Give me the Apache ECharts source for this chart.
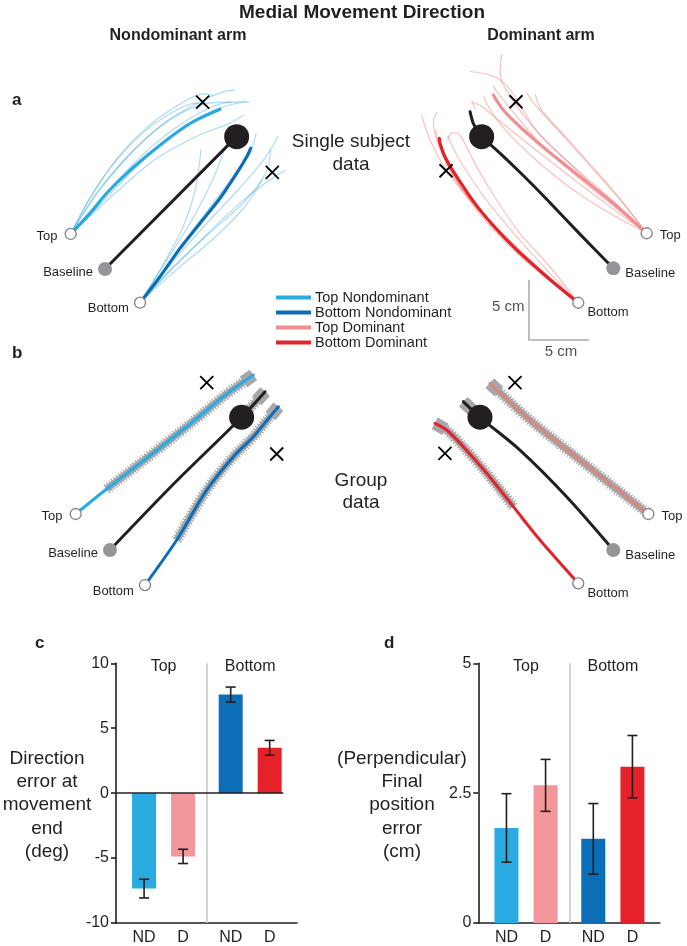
<!DOCTYPE html>
<html><head><meta charset="utf-8">
<script src="https://cdn.jsdelivr.net/npm/echarts@6/dist/echarts.min.js"></script>
<style>html,body{margin:0;padding:0;background:#fff}#c{width:687px;height:946px}</style>
</head><body><div id="c"></div>
<script>
// ---------- DATA (trajectories in cm, origin = Baseline target) ----------
// Panel a, nondominant arm (single subject)
const aL_topTarget = [-2.86, 2.92];
const aL_bottomTarget = [2.92, -2.81];
const aL_end = [10.97, 11.03];
const aL_baselinePath = [[0,0],[10.97,11.03]];
const aL_topMean = [[-2.86,2.92],[-1.25,4.64],[0.14,6.31],[1.81,7.97],[3.75,9.64],[5.69,11.17],[7.36,12.28],[9.58,13.31]];
const aL_bottomMean = [[2.92,-2.81],[4.58,-0.64],[6.25,1.72],[7.92,3.81],[9.58,5.89],[10.97,7.97],[11.81,9.36],[12.14,10.06]];
const aL_topTrials = [
  [[-2.86,2.92],[-1.2,6.0],[1.0,9.2],[3.5,11.8],[6.0,13.6],[8.2,14.6],[9.0,14.5]],
  [[-2.86,2.92],[-0.8,6.2],[2.0,9.5],[5.0,12.2],[8.0,14.0],[10.0,14.8],[10.8,14.9]],
  [[-2.86,2.92],[0,5.8],[3.0,8.9],[6.0,11.4],[9.0,13.2],[11.8,14.0]],
  [[-2.86,2.92],[0.5,6.0],[4.0,9.0],[7.5,11.0],[10.5,12.2],[11.5,12.8]],
  [[-2.86,2.92],[-1.5,5.5],[0.5,8.5],[3.0,11.2],[5.5,13.0],[7.5,13.8],[8.5,13.6]],
  [[-2.86,2.92],[0.5,6.8],[4.0,10.3],[7.5,12.8],[10.5,13.9],[12.0,13.9]],
  [[-2.86,2.92],[-0.5,6.5],[2.5,10.0],[5.5,12.5],[8.5,13.8],[10.5,13.9]]
];
const aL_bottomTrials = [
  [[2.92,-2.81],[5.0,0.0],[7.5,3.5],[10.0,6.8],[12.0,9.5],[12.6,11.3]],
  [[2.92,-2.81],[5.3,0.2],[8.2,3.5],[11.0,6.5],[13.3,9.2],[14.4,11.0]],
  [[2.92,-2.81],[5.5,0.0],[8.5,2.8],[11.5,5.5],[13.4,8.0],[13.8,9.9]],
  [[2.92,-2.81],[5.8,-0.2],[9.0,2.5],[11.5,5.0],[13.1,7.4]],
  [[2.92,-2.81],[4.8,0.3],[6.5,3.5],[7.5,6.5],[8.0,9.9]],
  [[2.92,-2.81],[5.0,0.5],[7.2,4.0],[9.0,7.5],[10.2,10.7]],
  [[2.92,-2.81],[5.6,0.0],[8.6,3.0],[11.6,5.8],[14.0,7.6],[15.0,8.2]]
];
const aL_crosses = [[8.14,13.9],[13.94,8.06]];

// Panel a, dominant arm (single subject)
const aR_topTarget = [2.78, 2.92];
const aR_bottomTarget = [-2.92, -2.87];
const aR_end = [-10.97, 10.97];
const aR_baselinePath = [[0,0],[-2.78,2.85],[-5.55,5.75],[-7.78,8.0],[-9.72,9.85],[-10.97,10.97],[-11.67,12.08],[-11.94,13.05]];
const aR_topMean = [[2.78,2.92],[0,5.42],[-2.78,7.64],[-5.55,9.86],[-7.78,11.8],[-9.17,13.19],[-10.0,14.44]];
const aR_bottomMean = [[-2.92,-2.87],[-5.55,-0.7],[-8.33,1.8],[-11.11,4.86],[-13.05,7.64],[-14.03,9.3],[-14.44,10.42],[-14.5,10.83]];
const aR_topTrials = [
  [[2.78,2.92],[0,5.6],[-3,8.2],[-6,11.0],[-8.6,14.3],[-9.44,16.25],[-9.3,17.8]],
  [[2.78,2.92],[-0.5,5.8],[-3.5,8.6],[-6.5,11.6],[-8.6,14.9],[-10,16.0],[-11.94,16.4]],
  [[2.78,2.92],[-0.5,5.3],[-3.8,7.8],[-7.0,10.3],[-9.5,12.3],[-11.0,13.5],[-11.8,13.9],[-11.5,13.3]],
  [[2.78,2.92],[0,5.2],[-3.0,7.6],[-6.0,10.3],[-8.0,12.6],[-9.6,14.6],[-10.0,15.2]],
  [[2.78,2.92],[0.5,5.8],[-2.0,8.6],[-4.5,11.4],[-6.5,13.6],[-7.2,14.6]],
  [[2.78,2.92],[0.8,5.5],[-1.5,8.2],[-4.0,11.0],[-6.0,13.2],[-6.5,14.5]],
  [[2.78,2.92],[-1.0,5.0],[-4.5,7.4],[-7.5,10.0],[-9.8,12.5],[-10.8,14.3]]
];
const aR_bottomTrials = [
  [[-2.92,-2.87],[-5.5,-0.6],[-8.5,2.2],[-11.5,5.2],[-14.0,8.3],[-15.4,11.0],[-15.97,12.78]],
  [[-2.92,-2.87],[-5.28,0.13],[-7.78,2.92],[-9.72,5.69],[-11.39,8.47],[-12.78,11.1],[-13.4,11.3],[-13.8,10.8]],
  [[-2.92,-2.87],[-5.8,-0.4],[-8.8,2.3],[-11.6,5.3],[-13.6,8.2],[-14.6,10.6],[-14.8,11.5]],
  [[-2.92,-2.87],[-5.6,-0.8],[-8.4,1.6],[-11.2,4.6],[-13.3,7.6],[-14.3,9.6]],
  [[-2.92,-2.87],[-6.0,-0.2],[-9.2,2.8],[-12.0,6.0],[-14.2,9.4],[-15.0,12.2],[-14.7,13.0]],
  [[-2.92,-2.87],[-5.4,-0.3],[-8.2,2.8],[-10.8,6.0],[-12.8,9.0],[-13.8,11.0]]
];
const aR_crosses = [[-8.11,13.88],[-13.94,8.13]];
const scaleOrigin = [-7.03, -5.97];
const scaleLength = 5;

// Panel b, group data
const bL_topTarget = [-2.86, 3.0];
const bL_bottomTarget = [2.92, -2.92];
const bL_end = [10.97, 11.06];
const bL_baselinePath = [[0,0],[5.4,5.6],[10.97,11.06],[12.92,13.19]];
const bL_topMean = [[-2.86,3.0],[-0.28,5.08],[2.5,7.22],[6.67,10.5],[9.72,13.0],[11.94,14.58]];
const bL_bottomMean = [[2.92,-2.92],[5.56,0.83],[8.06,5.0],[10.28,7.78],[11.94,9.44],[13.33,11.11],[14.03,11.94]];
const bL_crosses = [[8.06,13.94],[13.89,8.0]];

const bR_topTarget = [2.92, 3.0];
const bR_bottomTarget = [-2.92, -2.78];
const bR_end = [-11.11, 11.06];
const bR_baselinePath = [[0,0],[-3.89,4.44],[-7.78,8.33],[-11.11,11.06],[-12.5,12.36]];
const bR_topMean = [[2.92,3.0],[-2.78,7.5],[-6.94,10.83],[-10.28,13.89]];
const bR_bottomMean = [[-2.92,-2.78],[-6.11,0.83],[-8.33,3.61],[-10.55,6.39],[-12.5,8.61],[-13.89,10.0],[-14.86,10.56]];
const bR_crosses = [[-8.19,13.94],[-14.03,8.06]];

// Panels c, d (bar charts)
const barCats = ['ND','D','ND','D'];
const barGroups = ['Top','Bottom'];
const dirErr = [-7.35, -4.87, 7.59, 3.49];
const dirErrSE = [0.72, 0.55, 0.58, 0.57];
const posErr = [1.83, 2.65, 1.62, 3.01];
const posErrSE = [0.66, 0.5, 0.68, 0.6];
const legendNames = ['Top Nondominant','Bottom Nondominant','Top Dominant','Bottom Dominant'];

// ---------- STYLE ----------
const FONT = "'Liberation Sans', Arial, Helvetica, sans-serif";
const INK = '#231F20';
const C_TND = '#29ABE2', C_BND = '#0C6EB6', C_TD = '#F08E93', C_BD = '#E3232A', C_TD_G = '#D9877C';
const THIN_B = 'rgba(41,160,222,0.38)', THIN_R = 'rgba(236,110,105,0.42)';
const BAR_COLORS = [C_TND, '#F3979B', C_BND, '#E5222A'];
const BAND = '#A5A7AA';

const series = [];
function line(gi, data, color, width, extra) {
  series.push(Object.assign({
    type:'line', xAxisIndex:gi, yAxisIndex:gi, data, symbol:'none', showSymbol:false,
    smooth:0.3, clip:false, silent:true, animation:false,
    lineStyle:{color, width, cap:'round', join:'round'}, itemStyle:{color}, z:2
  }, extra || {}));
}
function band(gi, pts, start) {
  const seg = pts.slice(start);
  line(gi, seg, BAND, 7, {z:1, lineStyle:{color:BAND, width:7, cap:'butt'}});
  line(gi, seg, BAND, 11, {z:1, lineStyle:{color:BAND, width:11, type:[1.2,1.8], cap:'butt'}});
  const a = pts[pts.length-2], b = pts[pts.length-1];
  const dx = b[0]-a[0], dy = b[1]-a[1], L = Math.hypot(dx,dy), k = Math.min(1, 1.0/L);
  line(gi, [[b[0]-dx*k, b[1]-dy*k], b], BAND, 13, {z:1, smooth:false, lineStyle:{color:BAND, width:13, cap:'butt'}});
}
function markers(gi, side, topT, botT, endPt, crosses) {
  const L = side === 'left';
  const pos = L ? 'left' : 'right';
  const lbl = (t, dist, off) => ({show:true, formatter:t, position:pos, distance:dist, offset:off,
    fontSize:13, color:INK, fontFamily:FONT, opacity:1});
  series.push({type:'scatter', xAxisIndex:gi, yAxisIndex:gi, silent:true, clip:false, z:6, animation:false,
    symbol:'circle', symbolSize:11,
    itemStyle:{color:'#fff', borderColor:'#808285', borderWidth:1.3, opacity:1},
    data:[
      {value:topT, label:lbl('Top', 7, [0,2])},
      {value:botT, label:lbl('Bottom', L ? 5 : 3, L ? [0,6] : [0,10])}
    ]});
  series.push({type:'scatter', xAxisIndex:gi, yAxisIndex:gi, silent:true, clip:false, z:6, animation:false,
    symbol:'circle', symbolSize:14, itemStyle:{color:'#939598', opacity:1},
    data:[{value:[0,0], label:lbl('Baseline', 5, L ? [0,3] : [0,5])}]});
  series.push({type:'scatter', xAxisIndex:gi, yAxisIndex:gi, silent:true, clip:false, z:5, animation:false,
    symbol:'circle', symbolSize:25, itemStyle:{color:INK, opacity:1}, data:[endPt]});
  series.push({type:'scatter', xAxisIndex:gi, yAxisIndex:gi, silent:true, clip:false, z:7, animation:false,
    symbol:'path://M0,0L10,10M10,0L0,10', symbolSize:13,
    itemStyle:{color:'none', borderColor:'#000', borderWidth:1.8, opacity:1}, data:crosses});
}

// Panel a left
aL_topTrials.forEach(t => line(0, t, THIN_B, 1.2, {z:1}));
aL_bottomTrials.forEach(t => line(0, t, THIN_B, 1.2, {z:1}));
line(0, aL_topMean, C_TND, 3.2, {name:legendNames[0], z:3});
line(0, aL_bottomMean, C_BND, 3.2, {name:legendNames[1], z:3});
line(0, aL_baselinePath, INK, 3, {z:3, smooth:false});
markers(0, 'left', aL_topTarget, aL_bottomTarget, aL_end, aL_crosses);

// Panel a right
aR_topTrials.forEach(t => line(1, t, THIN_R, 1.2, {z:1}));
aR_bottomTrials.forEach(t => line(1, t, THIN_R, 1.2, {z:1}));
line(1, aR_topMean, C_TD, 3.2, {name:legendNames[2], z:3});
line(1, aR_bottomMean, C_BD, 3.2, {name:legendNames[3], z:3});
line(1, aR_baselinePath, INK, 3, {z:3, smooth:0.2});
markers(1, 'right', aR_topTarget, aR_bottomTarget, aR_end, aR_crosses);
// scale bar
line(1, [[scaleOrigin[0], scaleOrigin[1]+scaleLength], scaleOrigin, [scaleOrigin[0]+scaleLength, scaleOrigin[1]]],
  '#A7A9AC', 1.5, {smooth:false, z:2, lineStyle:{color:'#A7A9AC', width:1.5, cap:'butt'}});
series.push({type:'scatter', xAxisIndex:1, yAxisIndex:1, silent:true, clip:false, symbolSize:1, animation:false,
  itemStyle:{color:'transparent'},
  data:[
    {value:[scaleOrigin[0], scaleOrigin[1]+scaleLength/2], label:{show:true, formatter:scaleLength+' cm', position:'left', distance:4, offset:[0,-3], fontSize:15, color:INK, fontFamily:FONT}},
    {value:[scaleOrigin[0]+scaleLength/2, scaleOrigin[1]], label:{show:true, formatter:scaleLength+' cm', position:'bottom', distance:4, offset:[2,0], fontSize:15, color:INK, fontFamily:FONT}}
  ]});

// Panel b left
band(2, bL_topMean, 1);
band(2, bL_bottomMean, 1);
band(2, bL_baselinePath, 2);
line(2, bL_topMean, C_TND, 3, {z:3});
line(2, bL_bottomMean, C_BND, 3, {z:3});
line(2, bL_baselinePath, INK, 3, {z:3});
markers(2, 'left', bL_topTarget, bL_bottomTarget, bL_end, bL_crosses);

// Panel b right
band(3, bR_topMean, 0);
band(3, bR_bottomMean, 2);
band(3, bR_baselinePath, 3);
line(3, bR_topMean, C_TD_G, 3, {z:3});
line(3, bR_bottomMean, C_BD, 3, {z:3});
line(3, bR_baselinePath, INK, 3, {z:3});
markers(3, 'right', bR_topTarget, bR_bottomTarget, bR_end, bR_crosses);

// Bar charts
const groupGap = 0.22;
const barPos = barCats.map((c, i) => i + 0.72 + (i >= 2 ? groupGap : 0));
const sepPos = (barPos[1] + barPos[2]) / 2;
const groupCenters = [(barPos[0]+barPos[1])/2, (barPos[2]+barPos[3])/2];
const X_MAX = 4.64;

function barChart(gi, vals, ses, yMin, yMax, zeroLine) {
  const ml = [{xAxis: sepPos, lineStyle:{color:'#C9CACB', width:1.6, type:'solid'}}];
  if (zeroLine) ml.push([{coord:[0,0], lineStyle:{color:INK, width:1.6, type:'solid'}}, {coord:[barPos[3]+0.35, 0]}]);
  series.push({type:'bar', xAxisIndex:gi, yAxisIndex:gi, barWidth:24, silent:true, animation:false, z:2,
    data: vals.map((v, i) => ({value:[barPos[i], v], itemStyle:{color:BAR_COLORS[i]}})),
    markLine:{silent:true, symbol:'none', animation:false, label:{show:false}, data:ml}});
  series.push({type:'custom', xAxisIndex:gi, yAxisIndex:gi, silent:true, animation:false, z:4,
    encode:{x:0, y:[1,2]},
    data: vals.map((v, i) => [barPos[i], v - ses[i], v + ses[i]]),
    renderItem:(params, api) => {
      const x = api.value(0);
      const lo = api.coord([x, api.value(1)]), hi = api.coord([x, api.value(2)]);
      const cw = 5, st = {stroke:INK, lineWidth:1.6};
      return {type:'group', children:[
        {type:'line', shape:{x1:lo[0], y1:lo[1], x2:hi[0], y2:hi[1]}, style:st},
        {type:'line', shape:{x1:lo[0]-cw, y1:lo[1], x2:lo[0]+cw, y2:lo[1]}, style:st},
        {type:'line', shape:{x1:hi[0]-cw, y1:hi[1], x2:hi[0]+cw, y2:hi[1]}, style:st}
      ]};
    }});
  series.push({type:'scatter', xAxisIndex:gi, yAxisIndex:gi, silent:true, symbolSize:1, animation:false,
    itemStyle:{color:'transparent', opacity:1},
    data: groupCenters.map((c, i) => ({value:[c, yMax], label:{show:true, formatter:barGroups[i], position:'inside', offset:[0,3], fontSize:16, color:INK, fontFamily:FONT}}))});
}
barChart(4, dirErr, dirErrSE, -10, 10, true);
barChart(5, posErr, posErrSE, 0, 5, false);

// ---------- AXES ----------
const hiddenAxis = (gi, min, max) => ({type:'value', gridIndex:gi, min, max, show:false});
const grids = [
  {left:9, top:53, width:312, height:300},
  {left:373.3, top:52.3, width:312, height:300},
  {left:14, top:334, width:312, height:300},
  {left:373.3, top:334, width:312, height:300},
  {left:116, top:663.3, width:181, height:260},
  {left:478.3, top:663.3, width:181.5, height:260}
];
const barX = gi => ({type:'value', gridIndex:gi, min:0, max:X_MAX,
  axisLine:{show:true, onZero:false, lineStyle:{color:INK, width:1.6}},
  axisTick:{show:false}, splitLine:{show:false},
  axisLabel:{show:true, customValues:barPos, margin:7, fontSize:16, color:INK, fontFamily:FONT,
    formatter: v => { let b = 0; barPos.forEach((p, i) => { if (Math.abs(p - v) < Math.abs(barPos[b] - v)) b = i; }); return barCats[b]; }}});
const barY = (gi, min, max, interval) => ({type:'value', gridIndex:gi, min, max, interval,
  axisLine:{show:true, onZero:false, lineStyle:{color:INK, width:1.6}},
  axisTick:{show:true, length:5, lineStyle:{color:INK, width:1.6}},
  splitLine:{show:false},
  axisLabel:{margin:7, fontSize:16, color:INK, fontFamily:FONT}});

const xAxis = [hiddenAxis(0,-8,18), hiddenAxis(1,-20,6), hiddenAxis(2,-8,18), hiddenAxis(3,-20,6), barX(4), barX(5)];
const yAxis = [hiddenAxis(0,-7,18), hiddenAxis(1,-7,18), hiddenAxis(2,-7,18), hiddenAxis(3,-7,18), barY(4,-10,10,5), barY(5,0,5,2.5)];

// ---------- TEXT ----------
const txt = (x, y, text, font, align, extra) => Object.assign({type:'text', x, y, silent:true,
  style:{text, font, fill:INK, textAlign:align || 'center', textVerticalAlign:'middle'}}, extra || {});
const graphic = [
  txt(362, 13, 'Medial Movement Direction', 'bold 19px ' + FONT),
  txt(178, 36, 'Nondominant arm', 'bold 16px ' + FONT),
  txt(541, 36, 'Dominant arm', 'bold 16px ' + FONT),
  txt(12, 100, 'a', 'bold 17px ' + FONT, 'left'),
  txt(12, 353, 'b', 'bold 17px ' + FONT, 'left'),
  txt(35, 643, 'c', 'bold 17px ' + FONT, 'left'),
  txt(384, 643, 'd', 'bold 17px ' + FONT, 'left'),
  {type:'text', x:351, y:153, silent:true, style:{text:'Single subject\ndata', font:'19px ' + FONT, fill:INK, textAlign:'center', textVerticalAlign:'middle', lineHeight:23}},
  {type:'text', x:361, y:492, silent:true, style:{text:'Group\ndata', font:'19px ' + FONT, fill:INK, textAlign:'center', textVerticalAlign:'middle', lineHeight:22}},
  {type:'text', x:47, y:805, silent:true, style:{text:'Direction\nerror at\nmovement\nend\n(deg)', font:'19px ' + FONT, fill:INK, textAlign:'center', textVerticalAlign:'middle', lineHeight:23.3}},
  {type:'text', x:402, y:805, silent:true, style:{text:'(Perpendicular)\nFinal\nposition\nerror\n(cm)', font:'19px ' + FONT, fill:INK, textAlign:'center', textVerticalAlign:'middle', lineHeight:23.3}}
];

const chart = echarts.init(document.getElementById('c'), null, {renderer:'canvas'});
chart.setOption({
  backgroundColor:'#fff',
  animation:false,
  textStyle:{fontFamily:FONT},
  grid:grids, xAxis, yAxis, series, graphic,
  legend:{left:276, top:290, orient:'vertical', padding:0, itemGap:0, itemWidth:35, itemHeight:4,
    selectedMode:false, icon:'rect',
    textStyle:{fontSize:14.5, lineHeight:14.3, color:INK, fontFamily:FONT, padding:[0,0,0,-1]},
    data:legendNames.map(n => ({name:n, icon:'rect'}))}
});
</script></body></html>
